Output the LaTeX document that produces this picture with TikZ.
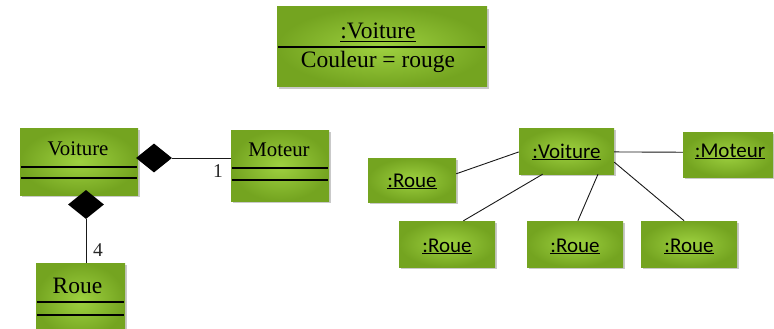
\documentclass[tikz,border=0pt]{standalone}
\usepackage{fontspec}
\setmainfont{Liberation Serif}
\newfontfamily\objfont{Carlito}
\usetikzlibrary{shapes.geometric,shadows,calc}
\definecolor{gedge}{RGB}{116,164,32}
\definecolor{gmid}{RGB}{158,209,64}
\definecolor{linegray}{RGB}{25,25,25}
\begin{document}
\begin{tikzpicture}[x=1pt,y=-1pt,
  box/.style={draw=none, inner color=gmid, outer color=gedge, inner sep=0pt,
    drop shadow={shadow xshift=1.5pt, shadow yshift=-2pt, opacity=.3, fill=black!70}},
  sep/.style={line width=1.1pt, black},
  link/.style={line width=0.9pt, draw=linegray},
  comp/.style={diamond, fill=black, draw=none, inner sep=0pt, minimum width=36pt, minimum height=29pt},
  clsname/.style={anchor=base, inner sep=0pt, font=\fontsize{20.8}{25}\selectfont},
  bigname/.style={anchor=base, inner sep=0pt, font=\fontsize{23.5}{28}\selectfont},
  objname/.style={anchor=base, inner sep=0pt, font=\objfont\fontsize{21}{25}\selectfont},
  mult/.style={inner sep=0pt, font=\fontsize{19.5}{23}\selectfont, text=black!85}]
\useasboundingbox (0,0) rectangle (774,329);

% object box with attribute value
\node[box, minimum width=210pt, minimum height=80pt] (cv) at (382,47) {};
\draw[sep] ([xshift=1pt]cv.west) -- ([xshift=-2pt]cv.east);
\node[bigname] (cvn) at (378,39) {\underline{:Voiture}};
\node[bigname] (cva) at (378,68) {Couleur = rouge};

% class diagram
\node[box, minimum width=118pt, minimum height=67pt] (car) at (79,161.5) {};
\node[clsname] (carn) at (78,155) {Voiture};
\draw[sep] ([xshift=1pt]car.west |- 0,167) -- ([xshift=-1pt]car.east |- 0,167);
\draw[sep] ([xshift=1pt]car.west |- 0,178) -- ([xshift=-1pt]car.east |- 0,178);

\node[box, minimum width=98pt, minimum height=71pt] (mot) at (280,165.5) {};
\node[clsname] (motn) at (279,156) {Moteur};
\draw[sep] ([xshift=1pt]mot.west |- 0,168) -- ([xshift=-1pt]mot.east |- 0,168);
\draw[sep] ([xshift=1pt]mot.west |- 0,180) -- ([xshift=-1pt]mot.east |- 0,180);

\node[box, minimum width=89pt, minimum height=74pt] (roue) at (80.5,300) {};
\node[bigname] (rouen) at (77.5,293) {Roue};
\draw[sep] ([xshift=1pt]roue.west |- 0,302) -- ([xshift=-1pt]roue.east |- 0,302);
\draw[sep] ([xshift=1pt]roue.west |- 0,315) -- ([xshift=-1pt]roue.east |- 0,315);

\node[comp] (d1) at (154,158) {};
\node[comp] (d2) at (86,204.5) {};
\draw[link] (d1.east) -- (mot.west |- d1.east);
\draw[link] (d2.south) -- (d2.south |- roue.north);
\node[mult] (m1) at (218,171) {1};
\node[mult] (m4) at (98,250) {4};

% object diagram
\node[box, minimum width=95pt, minimum height=46pt] (ov) at (566.5,151) {};
\node[objname] (ovn) at (566.5,158) {\underline{:Voiture}};
\node[box, minimum width=90pt, minimum height=45pt] (om) at (728,154.5) {};
\node[objname] (omn) at (730,157) {\underline{:Moteur}};
\node[box, minimum width=88pt, minimum height=44pt] (or0) at (412,180) {};
\node[objname] (or0n) at (412,187) {\underline{:Roue}};
\node[box, minimum width=96pt, minimum height=46pt] (or1) at (447,244) {};
\node[objname] (or1n) at (447,252) {\underline{:Roue}};
\node[box, minimum width=96pt, minimum height=46pt] (or2) at (575,244) {};
\node[objname] (or2n) at (575,252) {\underline{:Roue}};
\node[box, minimum width=96pt, minimum height=46pt] (or3) at (689,244) {};
\node[objname] (or3n) at (689,252) {\underline{:Roue}};

\draw[link] ($(ov.north west)!0.52!(ov.south west)$) -- ($(or0.north east)!0.36!(or0.south east)$);
\draw[link] ($(ov.south west)!0.25!(ov.south east)$) -- ($(or1.north west)!0.67!(or1.north east)$);
\draw[link] ($(ov.south west)!0.83!(ov.south east)$) -- ($(or2.north west)!0.53!(or2.north east)$);
\draw[link] ($(ov.north east)!0.74!(ov.south east)$) -- ($(or3.north west)!0.45!(or3.north east)$);
\draw[link] ($(ov.north east)!0.52!(ov.south east)$) -- ($(om.north west)!0.45!(om.south west)$);
\end{tikzpicture}
\end{document}
